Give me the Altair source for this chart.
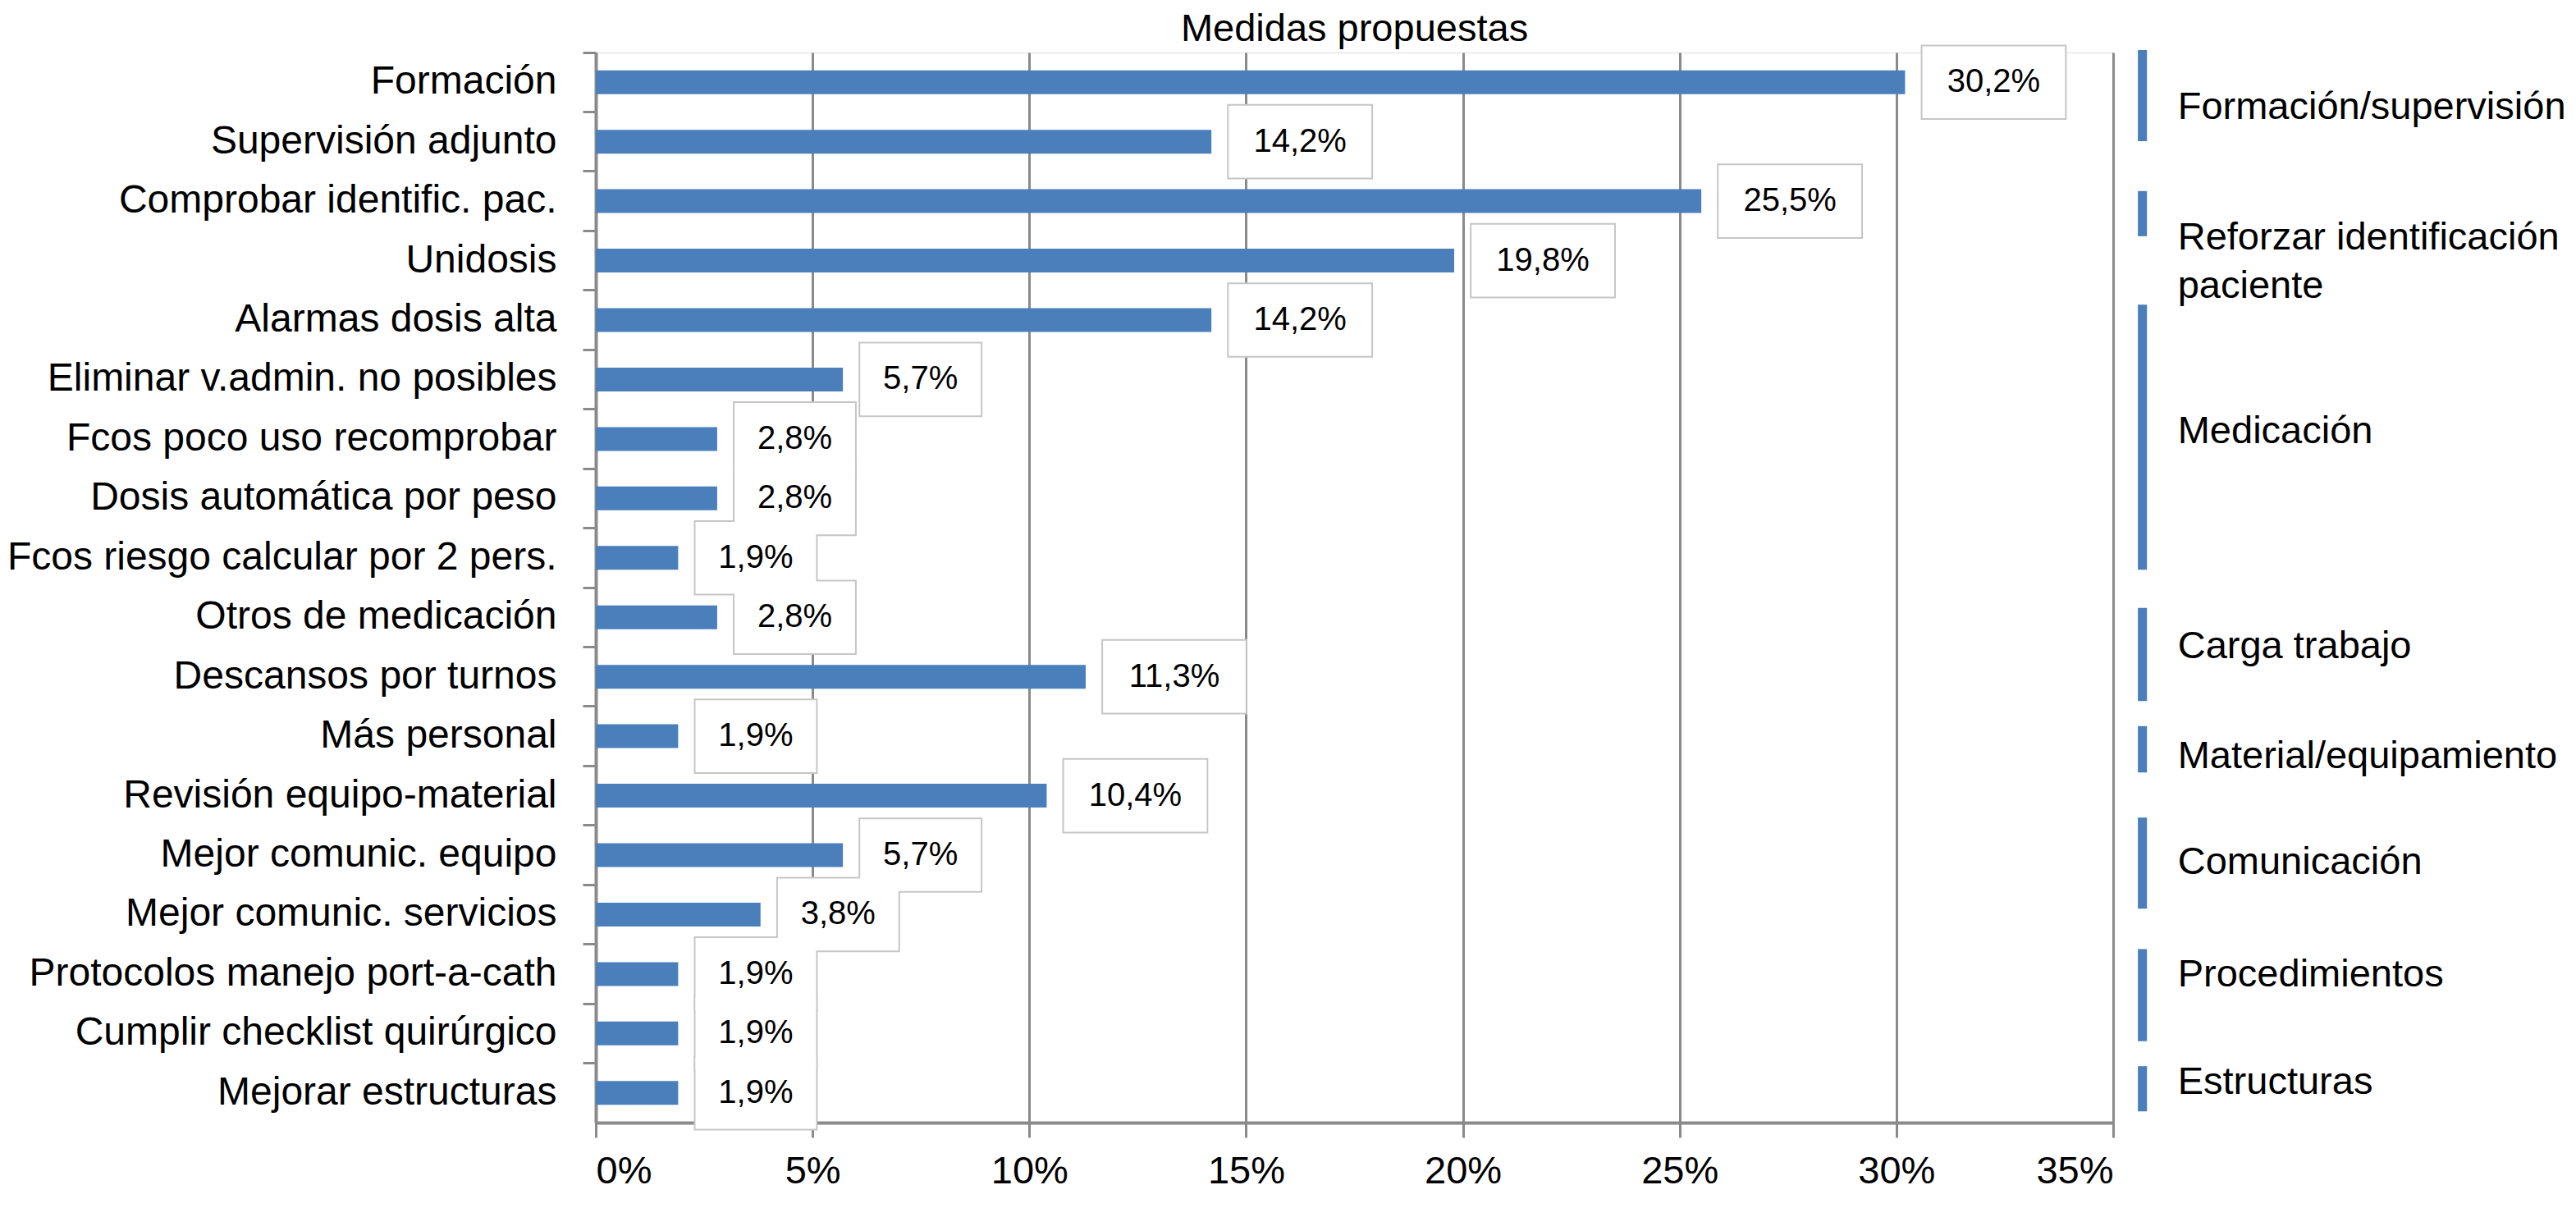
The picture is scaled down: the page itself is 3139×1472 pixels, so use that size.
import altair as alt
import pandas as pd

categories = [
    "Formación", "Supervisión adjunto", "Comprobar identific. pac.", "Unidosis",
    "Alarmas dosis alta", "Eliminar v.admin. no posibles", "Fcos poco uso recomprobar",
    "Dosis automática por peso", "Fcos riesgo calcular por 2 pers.", "Otros de medicación",
    "Descansos por turnos", "Más personal", "Revisión equipo-material",
    "Mejor comunic. equipo", "Mejor comunic. servicios", "Protocolos manejo port-a-cath",
    "Cumplir checklist quirúrgico", "Mejorar estructuras",
]
values = [30.2, 14.2, 25.5, 19.8, 14.2, 5.7, 2.8, 2.8, 1.9, 2.8,
          11.3, 1.9, 10.4, 5.7, 3.8, 1.9, 1.9, 1.9]

groups = ["Formación/supervisión", "Reforzar identificación\npaciente", "Medicación",
          "Carga trabajo", "Material/equipamiento", "Comunicación",
          "Procedimientos", "Estructuras"]
# group extents in row units (0 = top of first row)
group_start = [-0.04, 2.33, 4.24, 9.34, 11.33, 12.87, 15.08, 17.05]
group_end = [1.49, 3.09, 8.70, 10.91, 12.11, 14.40, 16.63, 17.81]
group_label_pos = [0.93, 3.12, 6.38, 10.0, 11.84, 13.63, 15.51, 17.32]

x_ticks = [0, 5, 10, 15, 20, 25, 30, 35]

BLUE = "#4a7fbc"
GRAY = "#8a8a8a"
FONT = "Liberation Sans"

labels = [f"{v:.1f}".replace(".", ",") + "%" for v in values]
df = pd.DataFrame({"cat": categories, "val": values, "label": labels})
df["row"] = range(len(df))
df["bw"] = df["label"].str.len().map({4: 2.78, 5: 3.29})
df["bx0"] = df["val"] + 0.40
df["bx1"] = df["bx0"] + df["bw"]
df["tx"] = (df["bx0"] + df["bx1"]) / 2
df["ty"] = df["row"] + 0.5
df["by0"] = df["ty"] - 0.605
df["by1"] = df["ty"] + 0.605

gdf = pd.DataFrame({"g": groups, "gs": group_start, "ge": group_end, "gy": group_label_pos})
gdf["gx0"] = 35.57
gdf["gx1"] = 35.78
gdf["tx"] = 36.49

xscale = alt.Scale(domain=[0, 35], nice=False, zero=True)
xaxis = alt.Axis(values=x_ticks, labelExpr="datum.value + '%'", labelFontSize=47,
                 labelColor="black", labelFont=FONT, tickSize=18, tickWidth=3,
                 tickColor=GRAY, domainColor=GRAY, domainWidth=4, grid=True,
                 gridColor=GRAY, gridWidth=3, labelPadding=18, title=None)
rowscale = alt.Scale(domain=[0, 18], reverse=True, nice=False, zero=False)


def X(field):
    return alt.X(field, type="quantitative", scale=xscale, axis=xaxis, title=None)


def Y(field):
    return alt.Y(field, type="quantitative", scale=rowscale, axis=None)


bars = alt.Chart(df).mark_bar(size=29, color=BLUE).encode(
    y=alt.Y("cat:N", sort=categories,
            scale=alt.Scale(paddingInner=0, paddingOuter=0),
            axis=alt.Axis(labelFontSize=48, labelColor="black", labelFont=FONT,
                          labelLimit=2000, labelPadding=32, tickSize=16, tickWidth=3,
                          tickColor=GRAY, domainColor=GRAY, domainWidth=4,
                          bandPosition=0, grid=False, title=None)),
    x=X("val"),
)

box_stroke = alt.Chart(df).mark_rect(fill="white", stroke="#c6c6c6", strokeWidth=4).encode(
    x=X("bx0"), x2="bx1", y=Y("by0"), y2="by1")
box_fill = alt.Chart(df).mark_rect(fill="white", strokeWidth=0).encode(
    x=X("bx0"), x2="bx1", y=Y("by0"), y2="by1")
val_text = alt.Chart(df).mark_text(fontSize=40, font=FONT, color="black",
                                   align="center", baseline="middle").encode(
    x=X("tx"), y=Y("ty"), text="label:N")

gbars = alt.Chart(gdf).mark_rect(color=BLUE).encode(
    x=X("gx0"), x2="gx1", y=Y("gs"), y2="ge")
gtext = alt.Chart(gdf).mark_text(fontSize=47, font=FONT, color="black", align="left",
                                 baseline="middle", lineBreak="\n", lineHeight=59).encode(
    x=X("tx"), y=Y("gy"), text="g:N")

chart = alt.layer(box_stroke, box_fill, bars, val_text, gbars, gtext).resolve_scale(
    y="independent"
).properties(
    width=1849, height=1304,
    title=alt.TitleParams("Medidas propuestas", fontSize=47, font=FONT, fontWeight="normal",
                          color="black", anchor="middle", offset=-6),
    padding={"left": 0, "top": 4, "right": 0, "bottom": 0},
).configure_view(stroke=None).configure(font=FONT)

chart.save("out.html", embed_options={"renderer": "svg", "actions": False})
